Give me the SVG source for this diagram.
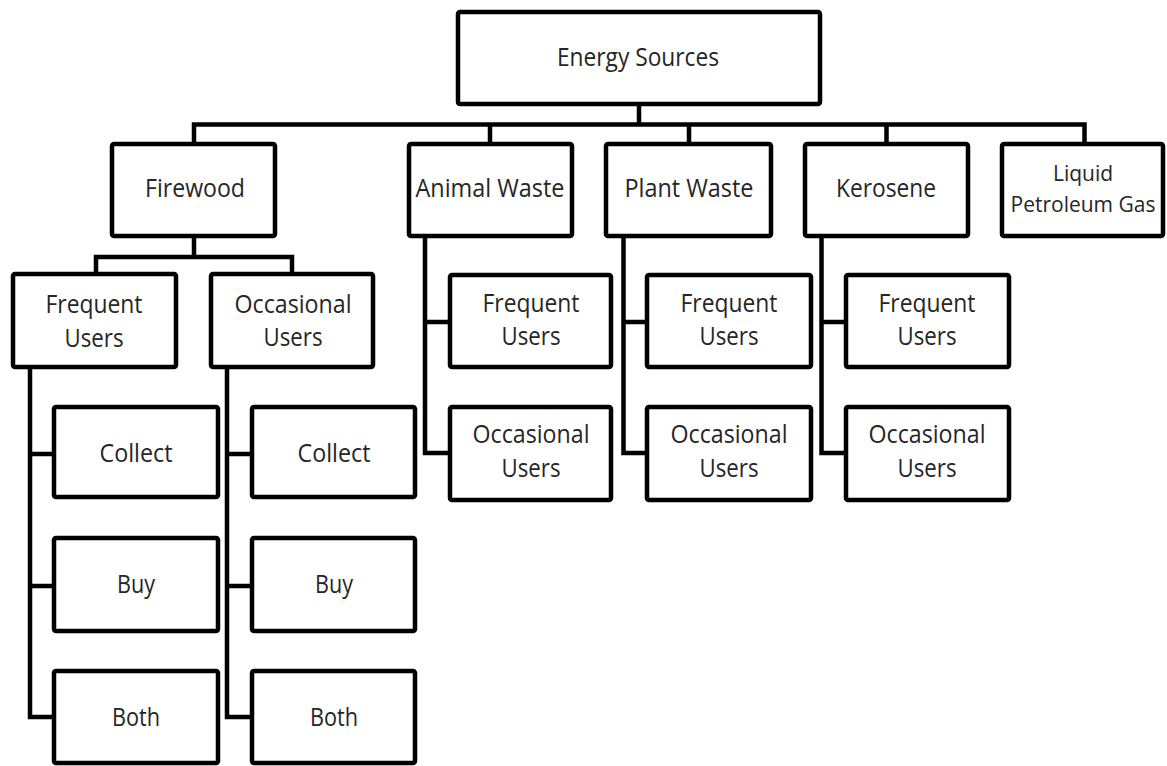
<svg xmlns="http://www.w3.org/2000/svg" width="1167" height="766" viewBox="0 0 1167 766">
<style>
.box{fill:#fff;stroke:#000;stroke-width:4.5;}
.ln{fill:none;stroke:#000;stroke-width:4.5;stroke-linejoin:miter;}
text{font-family:"Open Sans","Liberation Sans",sans-serif;font-size:26px;fill:#262626;text-anchor:middle;}
.sm{font-size:21px;}
</style>
<rect width="1167" height="766" fill="#fff"/>
<g id="connectors">
<path class="ln" d="M639,106V124.5"/>
<path class="ln" d="M194,142V124.5H1084.5V142"/>
<path class="ln" d="M490,124.5V142M689,124.5V142M886.5,124.5V142"/>
<path class="ln" d="M194,238V257"/>
<path class="ln" d="M96,272V257H292V272"/>
<path class="ln" d="M30,369V717H52M30,454H52M30,586H52"/>
<path class="ln" d="M227,369V717H250M227,454H250M227,586H250"/>
<path class="ln" d="M425,238V453H448M425,322H448"/>
<path class="ln" d="M623.5,238V453H645M623.5,322H645"/>
<path class="ln" d="M821.5,238V453H844M821.5,322H844"/>
</g>
<g id="energy-sources"><rect class="box" x="458" y="12" width="362" height="92" rx="2"/><text x="638" y="66" textLength="162" lengthAdjust="spacingAndGlyphs">Energy Sources</text></g>
<g id="firewood"><rect class="box" x="112" y="144" width="163" height="92" rx="2"/><text x="195" y="197" textLength="100" lengthAdjust="spacingAndGlyphs">Firewood</text></g>
<g id="animal-waste"><rect class="box" x="409" y="144" width="163" height="92" rx="2"/><text x="490" y="197" textLength="149" lengthAdjust="spacingAndGlyphs">Animal Waste</text></g>
<g id="plant-waste"><rect class="box" x="606" y="144" width="165" height="92" rx="2"/><text x="689" y="197" textLength="129" lengthAdjust="spacingAndGlyphs">Plant Waste</text></g>
<g id="kerosene"><rect class="box" x="805" y="144" width="163" height="92" rx="2"/><text x="886" y="197" textLength="100" lengthAdjust="spacingAndGlyphs">Kerosene</text></g>
<g id="lpg"><rect class="box" x="1002" y="144" width="161" height="92" rx="2"/><text class="sm" x="1083" y="181">Liquid</text><text class="sm" x="1083" y="212">Petroleum Gas</text></g>
<g id="fw-frequent"><rect class="box" x="13" y="274" width="163" height="93" rx="2"/><text x="94" y="313" textLength="97" lengthAdjust="spacingAndGlyphs">Frequent</text><text x="94" y="347" textLength="59" lengthAdjust="spacingAndGlyphs">Users</text></g>
<g id="fw-occasional"><rect class="box" x="211" y="274" width="162" height="93" rx="2"/><text x="293" y="313" textLength="117" lengthAdjust="spacingAndGlyphs">Occasional</text><text x="293" y="346" textLength="59" lengthAdjust="spacingAndGlyphs">Users</text></g>
<g id="fwf-collect"><rect class="box" x="54" y="407" width="164" height="90" rx="2"/><text x="136" y="462" textLength="73" lengthAdjust="spacingAndGlyphs">Collect</text></g>
<g id="fwf-buy"><rect class="box" x="54" y="538" width="164" height="93" rx="2"/><text x="136" y="593" textLength="38" lengthAdjust="spacingAndGlyphs">Buy</text></g>
<g id="fwf-both"><rect class="box" x="54" y="671" width="164" height="92" rx="2"/><text x="136" y="726" textLength="48" lengthAdjust="spacingAndGlyphs">Both</text></g>
<g id="fwo-collect"><rect class="box" x="252" y="407" width="163" height="90" rx="2"/><text x="334" y="462" textLength="73" lengthAdjust="spacingAndGlyphs">Collect</text></g>
<g id="fwo-buy"><rect class="box" x="252" y="538" width="163" height="93" rx="2"/><text x="334" y="593" textLength="38" lengthAdjust="spacingAndGlyphs">Buy</text></g>
<g id="fwo-both"><rect class="box" x="252" y="671" width="163" height="92" rx="2"/><text x="334" y="726" textLength="48" lengthAdjust="spacingAndGlyphs">Both</text></g>
<g id="aw-frequent"><rect class="box" x="450" y="275" width="161" height="92" rx="2"/><text x="531" y="312" textLength="97" lengthAdjust="spacingAndGlyphs">Frequent</text><text x="531" y="345" textLength="59" lengthAdjust="spacingAndGlyphs">Users</text></g>
<g id="aw-occasional"><rect class="box" x="450" y="407" width="161" height="93" rx="2"/><text x="531" y="443" textLength="117" lengthAdjust="spacingAndGlyphs">Occasional</text><text x="531" y="477" textLength="59" lengthAdjust="spacingAndGlyphs">Users</text></g>
<g id="pw-frequent"><rect class="box" x="647" y="275" width="164" height="92" rx="2"/><text x="729" y="312" textLength="97" lengthAdjust="spacingAndGlyphs">Frequent</text><text x="729" y="345" textLength="59" lengthAdjust="spacingAndGlyphs">Users</text></g>
<g id="pw-occasional"><rect class="box" x="647" y="407" width="164" height="93" rx="2"/><text x="729" y="443" textLength="117" lengthAdjust="spacingAndGlyphs">Occasional</text><text x="729" y="477" textLength="59" lengthAdjust="spacingAndGlyphs">Users</text></g>
<g id="ke-frequent"><rect class="box" x="846" y="275" width="163" height="92" rx="2"/><text x="927" y="312" textLength="97" lengthAdjust="spacingAndGlyphs">Frequent</text><text x="927" y="345" textLength="59" lengthAdjust="spacingAndGlyphs">Users</text></g>
<g id="ke-occasional"><rect class="box" x="846" y="407" width="163" height="93" rx="2"/><text x="927" y="443" textLength="117" lengthAdjust="spacingAndGlyphs">Occasional</text><text x="927" y="477" textLength="59" lengthAdjust="spacingAndGlyphs">Users</text></g>
</svg>
